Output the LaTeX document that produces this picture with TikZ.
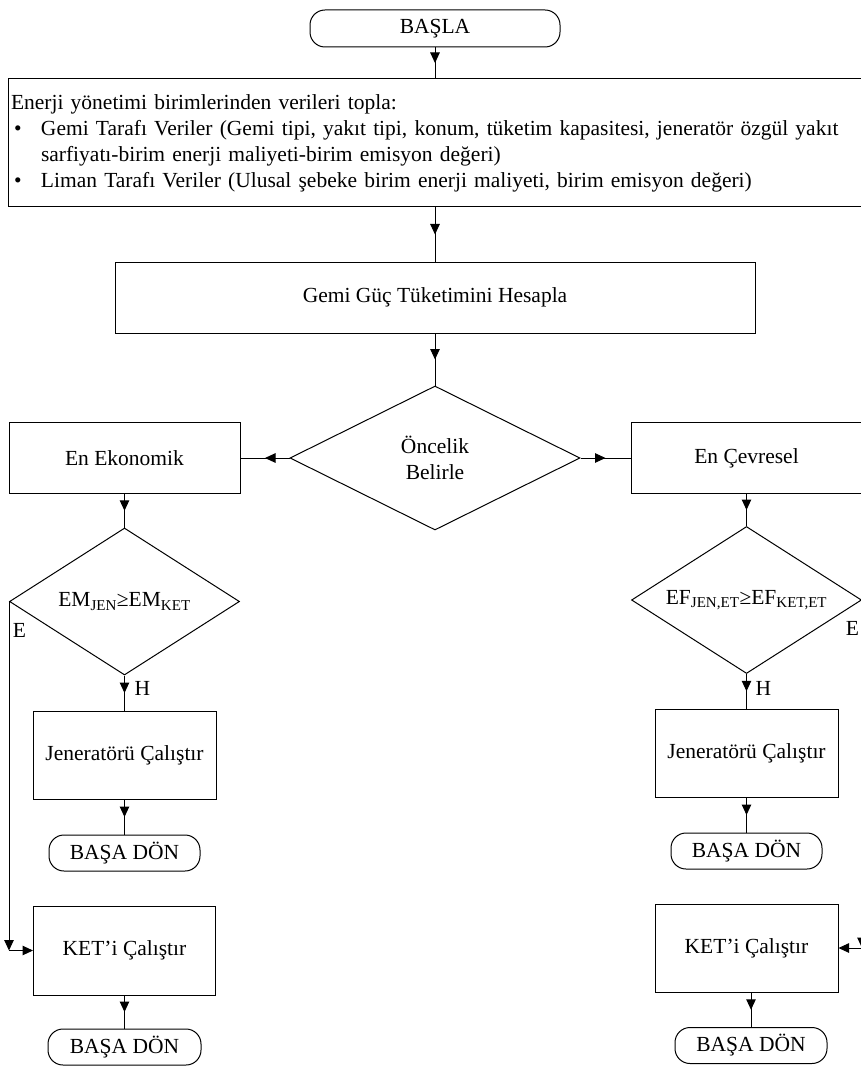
\documentclass[tikz,border=0pt]{standalone}
\usepackage{fontspec}
\setmainfont{Liberation Serif}
\usetikzlibrary{shapes.geometric,arrows.meta,decorations.markings}

\begin{document}
\begin{tikzpicture}[
  x=1pt, y=-1pt,
  font=\fontsize{21.5}{26}\selectfont, line width=1pt,
  >={Triangle[length=10.5pt,width=9.5pt]},
  bx/.style={draw, align=center, inner sep=2pt},
  pill/.style={draw, rounded corners=15pt, inner sep=1pt, minimum height=36pt},
  dia/.style={draw, diamond, aspect=2, inner sep=0pt, align=center},
  ma/.style={postaction={decorate}, decoration={markings, mark=at position 0.5 with {\arrow{>}}}}
]
  \useasboundingbox (0,0) rectangle (860,1067);
  \node[pill, minimum width=250pt, minimum height=37pt] (basla) at (435,28.5) {BAŞLA};
  \node[bx, minimum width=864pt, minimum height=128pt, text width=858pt, align=left] (veri) at (440,143)
    {Enerji yönetimi birimlerinden verileri topla:\\
     \hspace*{3pt}\makebox[27pt][l]{•}Gemi Tarafı Veriler (Gemi tipi, yakıt tipi, konum, tüketim kapasitesi, jeneratör özgül yakıt\\
     \hspace*{30pt}sarfiyatı-birim enerji maliyeti-birim emisyon değeri)\\
     \hspace*{3pt}\makebox[27pt][l]{•}Liman Tarafı Veriler (Ulusal şebeke birim enerji maliyeti, birim emisyon değeri)};
  \node[bx, minimum width=640pt, minimum height=71pt] (guc) at (435,297.5) {Gemi Güç Tüketimini Hesapla};
  \node[dia, minimum width=290pt, minimum height=144pt] (onc) at (435,458) {Öncelik\\Belirle};
  \node[bx, minimum width=231pt, minimum height=71pt] (ekon) at (124.5,458) {En Ekonomik};
  \node[bx, minimum width=231pt, minimum height=71pt] (cevre) at (746.5,458) {En Çevresel};
  % karar kutulari
  \node[dia, minimum width=230pt, minimum height=147pt] (emd) at (124.5,601.5) {EM\textsubscript{JEN}≥EM\textsubscript{KET}};
  \node[dia, minimum width=230pt, minimum height=147pt] (efd) at (746.5,600) {EF\textsubscript{JEN,ET}≥EF\textsubscript{KET,ET}};
  \node[bx, minimum width=183pt, minimum height=88pt] (jen1) at (124.5,755) {Jeneratörü Çalıştır};
  \node[bx, minimum width=183pt, minimum height=88pt] (jen2) at (746.5,753) {Jeneratörü Çalıştır};
  \node[pill, minimum width=151pt] (don1) at (124.5,853) {BAŞA DÖN};
  \node[pill, minimum width=151pt] (don2) at (746.5,851) {BAŞA DÖN};
  \node[bx, minimum width=182pt, minimum height=89pt] (ket1) at (124.5,950.5) {KET’i Çalıştır};
  \node[bx, minimum width=183pt, minimum height=88pt] (ket2) at (746.5,948) {KET’i Çalıştır};
  \node[pill, minimum width=153pt] (don3) at (124.5,1047) {BAŞA DÖN};
  \node[pill, minimum width=152pt] (don4) at (751,1045.5) {BAŞA DÖN};
  % etiketler
  \node (e1) at (19.5,630) {E};
  \node (h1) at (142.5,688) {H};
  \node (e2) at (852.5,628) {E};
  \node (h2) at (763.5,688) {H};
  % baglantilar
  \draw[ma] (basla.south) -- (basla.south |- veri.north);
  \draw[ma] (veri.south -| guc.north) -- (guc.north);
  \draw[ma] (guc.south) -- (onc.north);
  \draw[ma] (onc.west) -- (ekon.east);   \draw[ma] (onc.east) -- (cevre.west);
  \draw[ma] (ekon.south) -- (emd.north); \draw[ma] (cevre.south) -- (efd.north);
  \draw[ma] (emd.south) -- (jen1.north); \draw[ma] (efd.south) -- (jen2.north);
  \draw[ma] (jen1.south) -- (don1.north); \draw[ma] (jen2.south) -- (don2.north);
  \draw[ma] (ket1.south) -- (don3.north); \draw[ma] (ket2.south -| don4.north) -- (don4.north);
  \coordinate (c1) at (emd.west |- ket1.west);
  \coordinate (c2) at (efd.east |- ket2.east);
  \draw[->] (emd.west) -- (c1); \draw[->] (c1) -- (ket1.west);
  \draw[->] (efd.east) -- (c2); \draw[->] (c2) -- (ket2.east);
\end{tikzpicture}
\end{document}
